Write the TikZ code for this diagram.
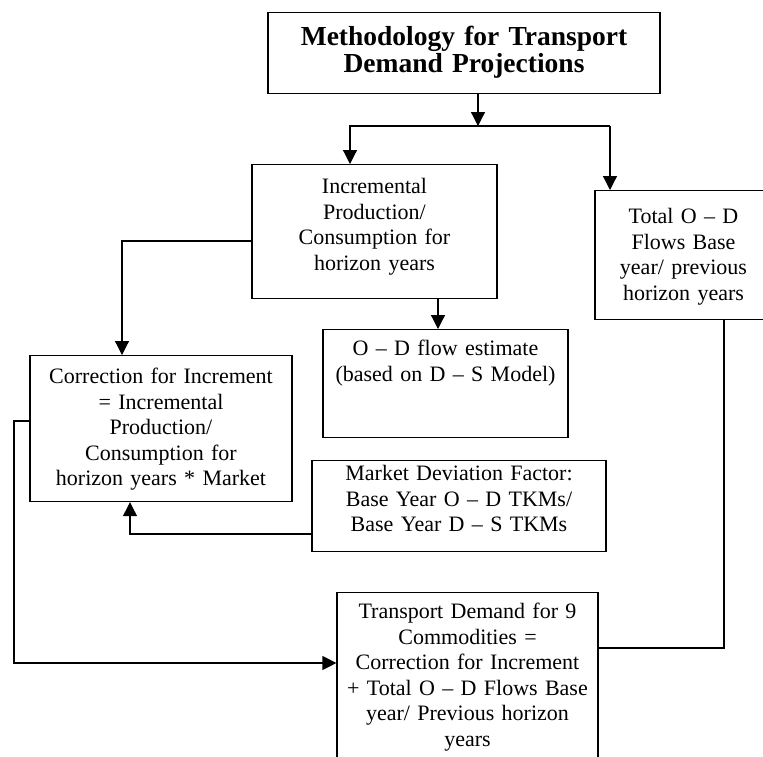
\documentclass[tikz,border=0pt]{standalone}
\usepackage{fontspec}
\setmainfont{Liberation Serif}
\usetikzlibrary{arrows.meta}

\tikzset{
  box/.style={draw, line width=1.2pt, anchor=north, align=center, inner sep=0pt,
    font=\fontsize{22}{25.5}\selectfont},
}

\begin{document}
\begin{tikzpicture}[x=1pt, y=-1pt, line width=1.2pt, >={Triangle[length=14pt,width=14pt]}]
\useasboundingbox (0,0) rectangle (763,756);

% boxes, placed by their top centre
\node[box, minimum width=392pt, text width=388pt, text height=33pt, text depth=48pt,
  font=\fontsize{27.5}{27}\selectfont\bfseries] (title) at (464,12)
  {Methodology for Transport\\Demand Projections};
\node[box, minimum width=245pt, text width=241pt, text height=29pt, text depth=105pt] (incr) at (374.5,164)
  {Incremental\\Production/\\Consumption for\\horizon years};
\node[box, minimum width=177pt, text width=173pt, text height=33pt, text depth=96pt] (total) at (683.5,190)
  {Total O – D\\Flows Base\\year/ previous\\horizon years};
\node[box, minimum width=245pt, text width=241pt, text height=26pt, text depth=82pt] (od) at (445.5,329)
  {O – D flow estimate\\(based on D – S Model)};
\node[box, minimum width=262pt, text width=258pt, text height=28pt, text depth=118pt] (corr) at (161,355)
  {Correction for Increment\\= Incremental\\Production/\\Consumption for\\horizon years * Market};
\node[box, minimum width=294pt, text width=290pt, text height=20pt, text depth=71pt] (market) at (459,460)
  {Market Deviation Factor:\\Base Year O – D TKMs/\\Base Year D – S TKMs};
\node[box, minimum width=261pt, text width=257pt, text height=26pt, text depth=180pt] (transport) at (467.5,592)
  {Transport Demand for 9\\Commodities =\\Correction for Increment\\+ Total O – D Flows Base\\year/ Previous horizon\\years};

% branch points
\coordinate (split) at (478,126);
\coordinate (forkl) at (350,126);
\coordinate (forkr) at (610,126);
\coordinate (loop) at (14,663);

% connectors
\draw[->] (title.south -| split) -- (split);
\draw[->] (forkr) -- (forkl) -- (forkl |- incr.north);
\draw[->] (forkr) -- (forkr |- total.north);
\draw[->] (incr.south -| 438,0) -- (od.north -| 438,0);
\draw[->] (incr.west |- 0,241) -| (corr.north -| 122,0);
\draw[->] (market.west |- 0,534) -| (corr.south -| 130,0);
\draw[->] (corr.west |- 0,421) -| (loop) -- (transport.west |- loop);
\draw (total.south -| 724,0) |- (transport.east |- 0,648);
\end{tikzpicture}
\end{document}
